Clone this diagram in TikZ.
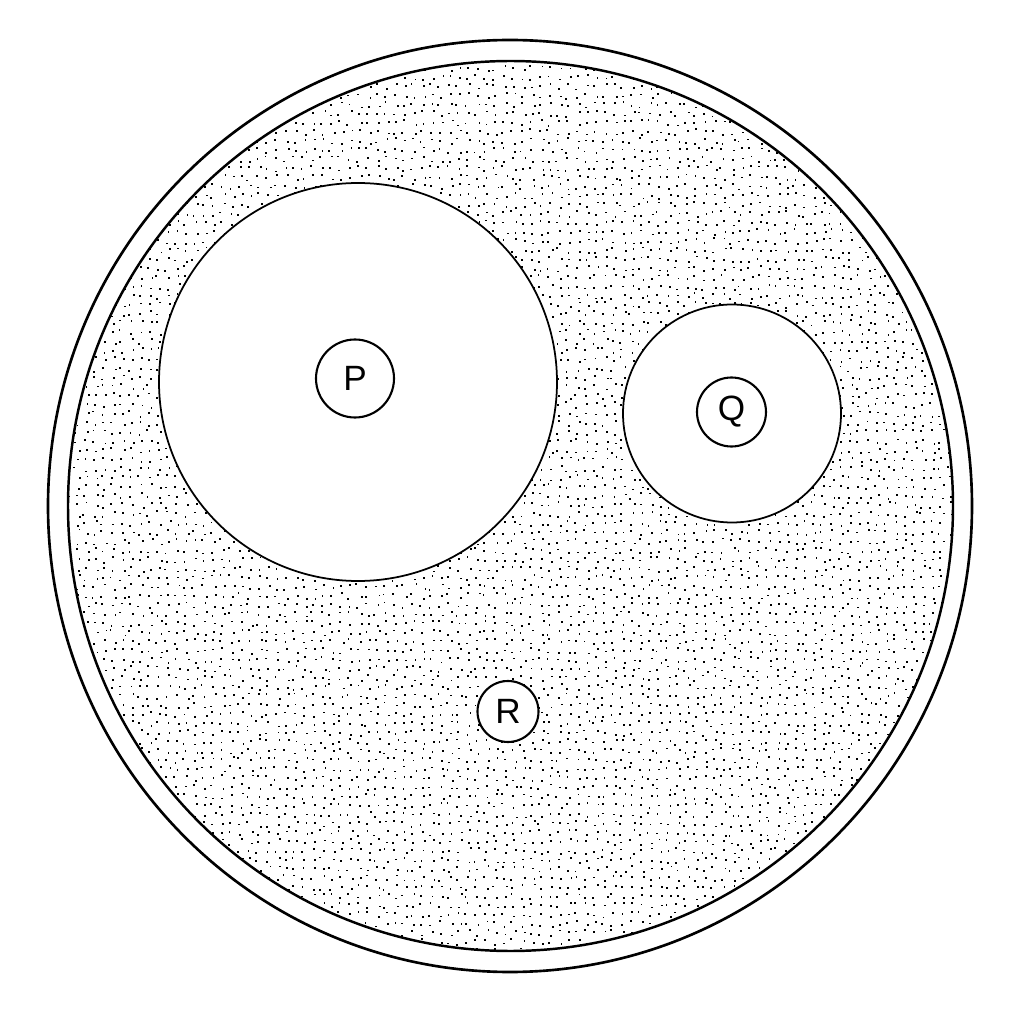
\documentclass[tikz,border=0pt]{standalone}
\usepackage{fontspec}
\setmainfont{Liberation Sans}
\usepackage{tikz}

\tikzset{
  hole/.style={draw, circle, fill=white, inner sep=0pt, line width=0.5pt},
  tagcirc/.style={draw, circle, fill=white, inner sep=0pt, line width=0.6pt, font=\fontsize{10}{12}\selectfont},
}

\begin{document}
\begin{tikzpicture}
            \useasboundingbox (0,0) rectangle (10.24,10.24);
            \fill[white] (0,0) rectangle (10.24,10.24);

            % stippled interior: jittered grid of small dots
            \pgfmathsetseed{7}
            \begin{scope}
                \clip (5.105,5.18) ellipse [x radius=4.425, y radius=4.45];
                \foreach \i in {0,...,97} {
                    \foreach \j in {0,...,98} {
                        \pgfmathsetmacro\dx{0.67+\i*0.091+0.03*rand}
                        \pgfmathsetmacro\dy{0.72+\j*0.091+0.03*rand}
                        \fill (\dx,\dy) rectangle ++(0.018,0.018);
                    }
                }
            \end{scope}

            \draw[line width=0.75pt] (5.10,5.18) ellipse [x radius=4.62, y radius=4.66];
            \draw[line width=0.7pt] (5.105,5.18) ellipse [x radius=4.425, y radius=4.45];

            \node[hole, minimum size=3.98cm] (holeP) at (3.58,6.42) {};
            \node[hole, minimum size=2.18cm] (holeQ) at (7.32,6.105) {};

            \node[tagcirc, minimum size=0.78cm] (P) at (3.55,6.455) {P};
            \node[tagcirc, minimum size=0.69cm] (Q) at (7.315,6.12) {Q};
            \node[tagcirc, minimum size=0.61cm] (R) at (5.08,3.125) {R};
        \end{tikzpicture}
\end{document}
